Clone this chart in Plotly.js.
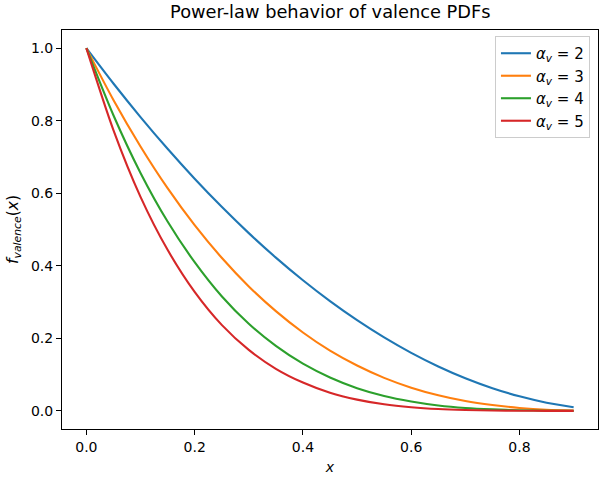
<!DOCTYPE html>
<html>
<head>
<meta charset="utf-8">
<script src="https://cdn.plot.ly/plotly-3.0.1.min.js"></script>
<style>html,body{margin:0;padding:0;background:#fff}#chart{width:606px;height:477px}</style>
</head>
<body>
<div id="chart"></div>
<script>
const xValues = [0, 0.05, 0.1, 0.15, 0.2, 0.25, 0.3, 0.35, 0.4, 0.45, 0.5, 0.55, 0.6, 0.65, 0.7, 0.75, 0.8, 0.85, 0.9];
const alpha2 = [1, 0.9025, 0.81, 0.7225, 0.64, 0.5625, 0.49, 0.4225, 0.36, 0.3025, 0.25, 0.2025, 0.16, 0.1225, 0.09, 0.0625, 0.04, 0.0225, 0.01];
const alpha3 = [1, 0.857, 0.729, 0.614, 0.512, 0.422, 0.343, 0.275, 0.216, 0.166, 0.125, 0.091, 0.064, 0.043, 0.027, 0.016, 0.008, 0.003, 0.001];
const alpha4 = [1, 0.815, 0.656, 0.522, 0.410, 0.316, 0.240, 0.179, 0.130, 0.092, 0.0625, 0.041, 0.026, 0.015, 0.008, 0.004, 0.0016, 0.0005, 0.0001];
const alpha5 = [1, 0.774, 0.590, 0.444, 0.328, 0.237, 0.168, 0.116, 0.078, 0.050, 0.031, 0.018, 0.010, 0.005, 0.0024, 0.001, 0.0003, 0.0001, 0];
const seriesNames = ["<i>α</i><sub><i>v</i></sub> = 2", "<i>α</i><sub><i>v</i></sub> = 3", "<i>α</i><sub><i>v</i></sub> = 4", "<i>α</i><sub><i>v</i></sub> = 5"];
const colors = ["#1f77b4", "#ff7f0e", "#2ca02c", "#d62728"];
const yTickVals = [0, 0.2, 0.4, 0.6, 0.8, 1.0];
const yTickText = ["0.0", "0.2", "0.4", "0.6", "0.8", "1.0"];
const xTickVals = [0, 0.2, 0.4, 0.6, 0.8];
const xTickText = ["0.0", "0.2", "0.4", "0.6", "0.8"];

const allY = [alpha2, alpha3, alpha4, alpha5];
const traces = allY.map((ys, i) => ({
  x: xValues, y: ys, type: "scatter", mode: "lines",
  name: seriesNames[i],
  line: {color: colors[i], width: 2.1, shape: "spline", smoothing: 0.8}
}));

const font = {family: "DejaVu Sans", size: 14, color: "#000"};
const layout = {
  width: 606, height: 477,
  margin: {l: 62, r: 8, t: 30, b: 48},
  paper_bgcolor: "#fff", plot_bgcolor: "#fff",
  font: font,
  title: {text: "Power-law behavior of valence PDFs", font: {family: "DejaVu Sans", size: 17.8, color: "#000"}, x: 0.545, xanchor: "center", y: 0.988, yanchor: "top"},
  xaxis: {
    range: [-0.045, 0.945], showgrid: false, zeroline: false,
    showline: true, mirror: true, linecolor: "#000", linewidth: 1,
    ticks: "outside", ticklen: 5, tickwidth: 1, tickcolor: "#000",
    tickvals: xTickVals, ticktext: xTickText,
    title: {text: "<i>x</i>", font: {family: "DejaVu Sans", size: 14}, standoff: 8}
  },
  yaxis: {
    range: [-0.05, 1.05], showgrid: false, zeroline: false,
    showline: true, mirror: true, linecolor: "#000", linewidth: 1,
    ticks: "outside", ticklen: 5, tickwidth: 1, tickcolor: "#000",
    tickvals: yTickVals, ticktext: yTickText,
    title: {text: "<i>f</i><sub><i>valence</i></sub>(<i>x</i>)", font: {family: "DejaVu Sans", size: 15.5}, standoff: 8}
  },
  legend: {
    x: 0.985, y: 0.985, xanchor: "right", yanchor: "top",
    bgcolor: "rgba(255,255,255,0.8)", bordercolor: "#cccccc", borderwidth: 1,
    font: {family: "DejaVu Sans", size: 15, color: "#000"},
    tracegroupgap: 0
  },
  showlegend: true
};
Plotly.newPlot("chart", traces, layout, {displayModeBar: false, staticPlot: true});
</script>
</body>
</html>
